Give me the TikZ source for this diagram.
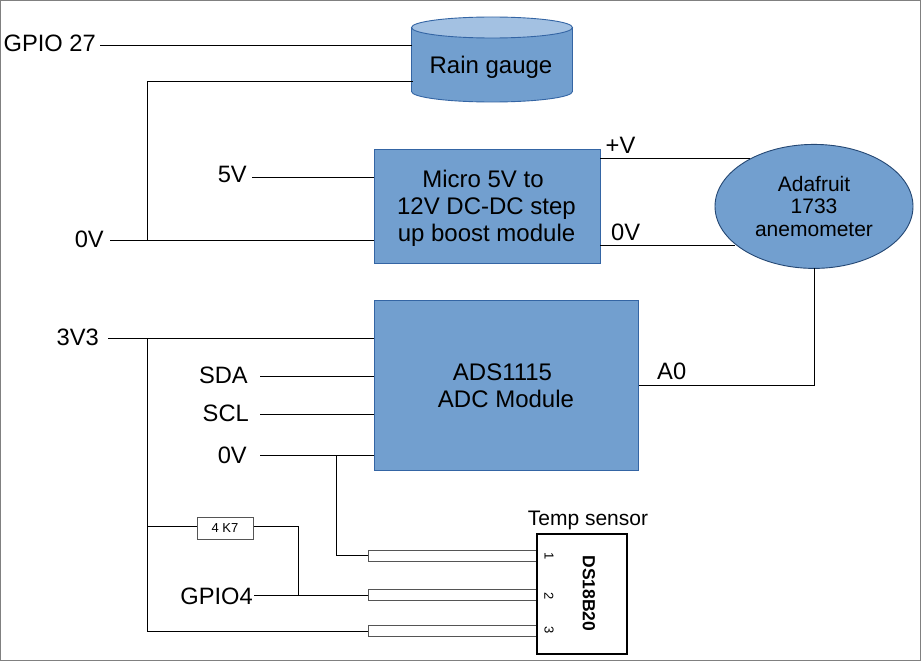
\documentclass[tikz,border=0pt]{standalone}
\usepackage{fontspec}
\setmainfont{Liberation Sans}
\usetikzlibrary{shapes.geometric}
\definecolor{bluefill}{HTML}{729FCF}
\definecolor{blueedge}{HTML}{3465A4}
\definecolor{bluetop}{HTML}{A3C1E2}
\definecolor{framegray}{HTML}{808080}
\definecolor{pingray}{HTML}{555555}
\tikzset{
  lbl/.style={inner sep=0pt,font=\fontsize{23.7}{28}\selectfont,text=black},
  lblsmall/.style={inner sep=0pt,font=\fontsize{21}{25}\selectfont,text=black},
  wire/.style={draw=black,line width=1pt},
  bluebox/.style={draw=blueedge,fill=bluefill,line width=0.9pt,inner sep=0pt,align=center,font=\fontsize{24}{27}\selectfont},
  pinbox/.style={draw=pingray,fill=white,line width=1pt,inner sep=0pt},
  pt/.style={inner sep=0pt,outer sep=0pt,minimum size=0pt}
}
\begin{document}
\begin{tikzpicture}[x=1pt,y=-1pt]
\useasboundingbox (0,0) rectangle (921,661);
\fill[white] (0,0) rectangle (921,661);
\draw[framegray,line width=1pt] (0.5,0.5) rectangle (920.5,660);

% labels
\node[lbl,anchor=east] (gpio27) at (96,43) {GPIO 27};
\node[lbl,anchor=east] (v5) at (247,174.5) {5V};
\node[lbl,anchor=east] (zero1) at (104,239) {0V};
\node[lbl,anchor=east] (v33) at (99,337) {3V3};
\node[lbl,anchor=east] (sda) at (248,375) {SDA};
\node[lbl,anchor=east] (scl) at (249,413) {SCL};
\node[lbl,anchor=east] (zero2) at (247,455) {0V};
\node[lbl,anchor=east] (gpio4) at (253,596) {GPIO4};
\node[lbl,anchor=west] (plusv) at (605.5,145) {+V};
\node[lbl,anchor=west] (zero3) at (611,232) {0V};
\node[lbl,anchor=west] (azero) at (657,371) {A0};
\node[lblsmall] (templ) at (588,520) {Temp sensor};

% blocks
\fill[bluefill] (411.5,27.5) -- (411.5,91.5) arc[start angle=180,end angle=0,x radius=80.5,y radius=10.5] -- (572.5,27.5) -- cycle;
\draw[blueedge,line width=0.9pt] (411.5,27.5) -- (411.5,91.5) arc[start angle=180,end angle=0,x radius=80.5,y radius=10.5] -- (572.5,27.5);
\draw[blueedge,fill=bluetop,line width=0.9pt] (492,27.5) ellipse[x radius=80.5,y radius=10.5];
\node[inner sep=0pt,font=\fontsize{24}{28}\selectfont] (rain) at (491,67) {Rain gauge};

\node[bluebox,minimum width=226pt,minimum height=114pt,text depth=0pt] (boost) at (487,206) {};
\node[inner sep=0pt,align=center,font=\fontsize{24}{27}\selectfont] (boosttxt) at (486.5,208) {Micro 5V to\hspace*{7pt}\\12V DC-DC step\\up boost module};
\node[bluebox,minimum width=264.5pt,minimum height=170pt] (ads) at (506.2,385) {};
\node[inner sep=0pt,align=center,font=\fontsize{24}{27}\selectfont] (adstxt) at (506,386) {ADS1115\hspace*{7pt}\\ADC Module};
\node[ellipse,draw=blueedge!70!black,fill=bluefill,line width=0.9pt,inner sep=0pt,minimum width=198pt,minimum height=124pt,align=center,font=\fontsize{21}{22.5}\selectfont] (anemo) at (814,206.4) {Adafruit\\1733\\anemometer};

% resistor and sensor
\node[draw=pingray,fill=white,line width=1pt,inner sep=0pt,minimum width=56pt,minimum height=22pt,font=\fontsize{13}{15}\selectfont] (res) at (225,528) {4 K7};
\node[pinbox,minimum width=169pt,minimum height=11.3pt] (pinA) at (452.5,556.3) {};
\node[pinbox,minimum width=169pt,minimum height=11pt] (pinB) at (452.5,595) {};
\node[pinbox,minimum width=169pt,minimum height=11pt] (pinC) at (452.5,631.2) {};
\node[draw=black,fill=white,line width=1.6pt,inner sep=0pt,minimum width=90pt,minimum height=120pt] (sensor) at (581.7,594) {};
\node[rotate=-90,inner sep=0pt,font=\bfseries\fontsize{17.5}{20}\selectfont] (dsname) at (589,593.5) {DS18B20};
\node[rotate=-90,inner sep=0pt,font=\fontsize{13}{15}\selectfont] (n1) at (549,556) {1};
\node[rotate=-90,inner sep=0pt,font=\fontsize{13}{15}\selectfont] (n2) at (549,596) {2};
\node[rotate=-90,inner sep=0pt,font=\fontsize{13}{15}\selectfont] (n3) at (549,630) {3};

% junction coordinates
\coordinate (j0a) at (147.5,81.5);
\coordinate (j0b) at (147.5,240.5);
\coordinate (j33) at (147.5,338.5);
\coordinate (jres) at (147.5,526.5);
\coordinate (j33e) at (147.5,631.5);
\coordinate (jads) at (336.5,455.5);
\coordinate (jads2) at (336.5,555.5);
\coordinate (jg) at (298.5,526.5);
\coordinate (jg2) at (298.5,595.5);

% connectors
\draw[wire] (100,45.5) -- (411.5,45.5);
\draw[wire] (412.5,81.5) -- (j0a) -- (j0b);
\draw[wire] (110,240.5) -- (374,240.5);
\draw[wire] (252,177.5) -- (374,177.5);
\draw[wire] (600,158.5) -- (750,158.5);
\draw[wire] (600,245.5) -- (735,245.5);
\draw[wire] (ads.east |- 0,385.5) -- (814.5,385.5) -- (814.5,268);
\draw[wire] (108,338.5) -- (374,338.5);
\draw[wire] (j33) -- (j33e) -- (pinC.west |- j33e);
\draw[wire] (260,376.5) -- (374,376.5);
\draw[wire] (260,414.5) -- (374,414.5);
\draw[wire] (260,455.5) -- (374,455.5);
\draw[wire] (jads) -- (jads2) -- (pinA.west |- jads2);
\draw[wire] (jres) -- (res.west |- jres);
\draw[wire] (res.east |- jg) -- (jg) -- (jg2);
\draw[wire] (254,595.5) -- (pinB.west |- jg2);
\end{tikzpicture}
\end{document}
